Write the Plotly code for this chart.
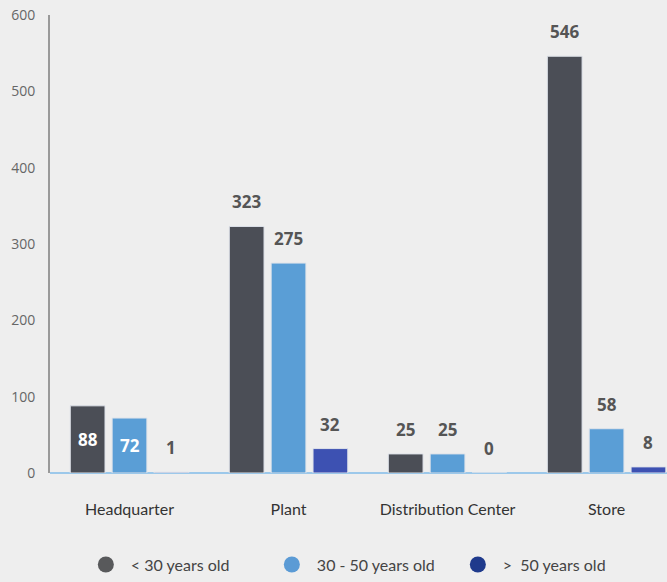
import plotly.graph_objects as go

categories = ["Headquarter", "Plant", "Distribution Center", "Store"]
series_names = ["< 30 years old", "30 - 50 years old", ">  50 years old"]
under_30 = [88, 323, 25, 546]
between_30_50 = [72, 275, 25, 58]
over_50 = [1, 32, 0, 8]
y_ticks = [0, 100, 200, 300, 400, 500, 600]

bar_colors = ["#4b4e56", "#5a9ed6", "#3d51b2"]
legend_colors = ["#58595b", "#5b9bd5", "#1f3a8c"]
series_values = [under_30, between_30_50, over_50]
inside_labels = {(0, 0), (1, 0)}  # (series, category) shown inside bar

BG = "#eeeeee"
fig = go.Figure()

for s, (name, vals) in enumerate(zip(series_names, series_values)):
    fig.add_trace(go.Bar(
        x=list(range(len(categories))), y=vals, name=name,
        marker=dict(color=bar_colors[s], line=dict(color="#dfe3ea", width=1)),
        showlegend=False, hoverinfo="y",
    ))

# legend entries as circles
for s, name in enumerate(series_names):
    fig.add_trace(go.Scatter(
        x=[None], y=[None], mode="markers", name=name,
        marker=dict(symbol="circle", size=20, color=legend_colors[s]),
        showlegend=True,
    ))

# data labels
step = 1.0 / 3 * (1 - 0.21)
for s, vals in enumerate(series_values):
    for i, v in enumerate(vals):
        xpos = i + (s - 1) * step
        if (s, i) in inside_labels:
            fig.add_annotation(x=xpos, y=v / 2, xref="x", yref="y", text=str(v),
                               showarrow=False, yanchor="middle", yshift=0,
                               font=dict(family="Open Sans", size=17, color="white", weight="bold"))
        else:
            fig.add_annotation(x=xpos, y=v, xref="x", yref="y", text=str(v),
                               showarrow=False, yanchor="bottom", yshift=11,
                               font=dict(family="Open Sans", size=17, color="#555555", weight="bold"))

fig.update_layout(
    width=667, height=582,
    paper_bgcolor=BG, plot_bgcolor=BG,
    margin=dict(l=50, r=0, t=15, b=109, autoexpand=False),
    barmode="group", bargap=0.21, bargroupgap=0.17,
    legend=dict(orientation="h", x=0.05, xanchor="left", y=-0.2, yanchor="middle",
                font=dict(family="Lato", size=16, color="#444444"),
                itemsizing="trace", itemwidth=40, entrywidth=131, entrywidthmode="pixels",
                traceorder="normal"),
    font=dict(family="Open Sans"),
)
fig.update_xaxes(
    range=[-0.5, 3.38], tickmode="array", tickvals=list(range(len(categories))),
    ticktext=categories, showgrid=False, showline=False, zeroline=False,
    tickfont=dict(family="Lato", size=16, color="#333333"),
    ticks="outside", ticklen=22, tickcolor=BG, automargin=False,
    fixedrange=True,
)
fig.update_yaxes(
    range=[0, 600], tickvals=y_ticks, showgrid=False, showline=True,
    linecolor="#999999", linewidth=2, zeroline=True, zerolinecolor="#9cc8ea",
    zerolinewidth=2, tickfont=dict(family="Open Sans", size=14, color="#666666"),
    ticks="outside", ticklen=10, tickcolor=BG, automargin=False,
)

fig.write_html("out.html", config={"displayModeBar": False},
               post_script="document.body.style.margin='0';document.body.style.background='#eeeeee';")
